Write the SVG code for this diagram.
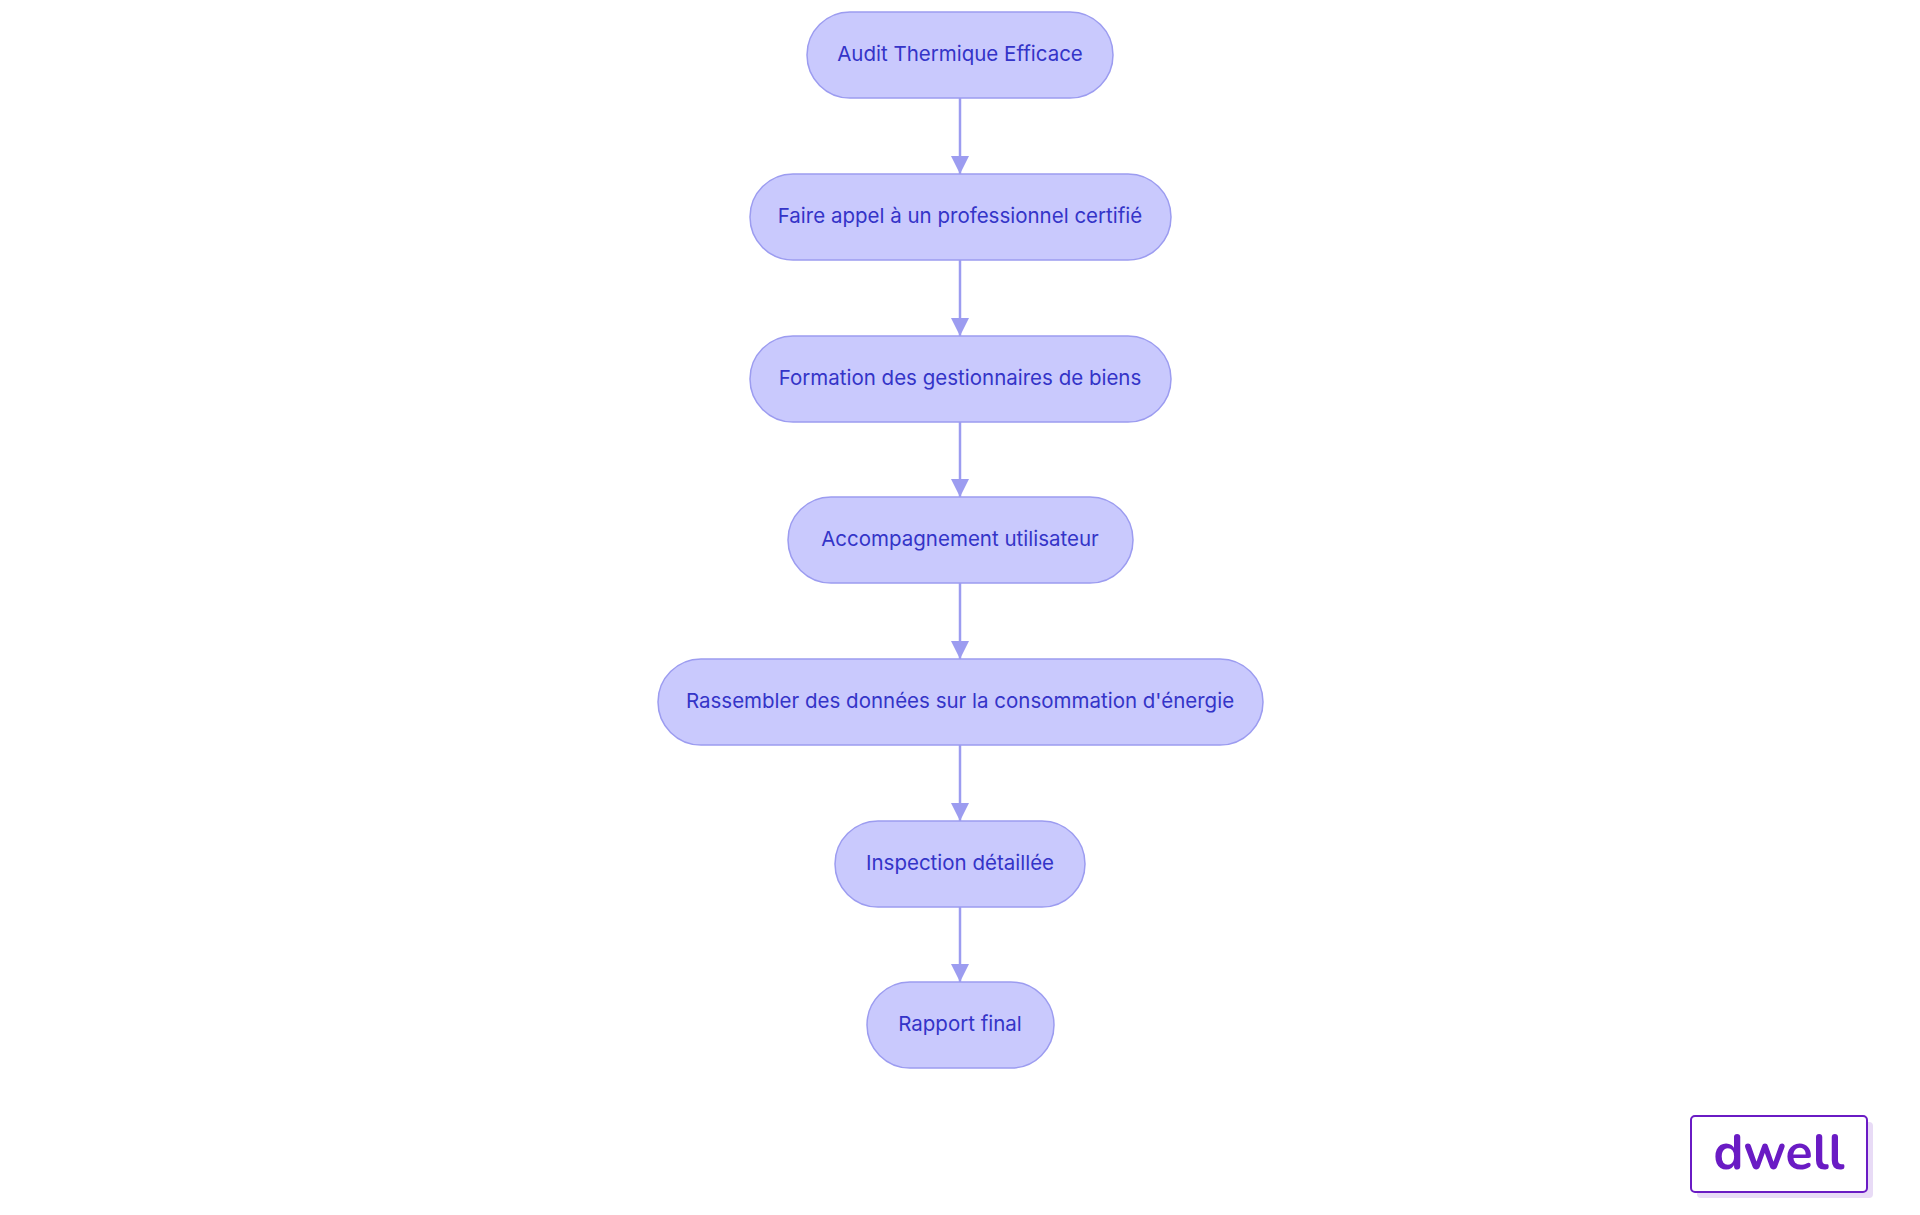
<svg xmlns="http://www.w3.org/2000/svg" width="1920" height="1215" viewBox="0 0 1920 1215">
<style>
.n rect{fill:#c9c9fd;stroke:#9c9cf0;stroke-width:1.5}
.n text{font-family:Inter,"Liberation Sans",sans-serif;font-size:20.5px;fill:#3434c8;text-anchor:middle;dominant-baseline:central}
.c line{stroke:#9c9cf0;stroke-width:2.5}
</style>
<defs><marker id="ah" viewBox="0 0 18 18" refX="18" refY="9" markerWidth="18" markerHeight="18" markerUnits="userSpaceOnUse" orient="auto"><path d="M0,0L18,9L0,18z" fill="#9c9cf0"/></marker></defs>
<rect width="1920" height="1215" fill="#fff"/>
<g class="c">
<line x1="960" y1="98" x2="960" y2="174" marker-end="url(#ah)"/>
<line x1="960" y1="260" x2="960" y2="336" marker-end="url(#ah)"/>
<line x1="960" y1="422" x2="960" y2="497" marker-end="url(#ah)"/>
<line x1="960" y1="583" x2="960" y2="659" marker-end="url(#ah)"/>
<line x1="960" y1="745" x2="960" y2="821" marker-end="url(#ah)"/>
<line x1="960" y1="907" x2="960" y2="982" marker-end="url(#ah)"/>
</g>
<g id="n1" class="n"><rect x="807" y="12" width="306" height="86" rx="43"/><text x="960" y="53">Audit Thermique Efficace</text></g>
<g id="n2" class="n"><rect x="750" y="174" width="421" height="86" rx="43"/><text x="960" y="215">Faire appel à un professionnel certifié</text></g>
<g id="n3" class="n"><rect x="750" y="336" width="421" height="86" rx="43"/><text x="960" y="377">Formation des gestionnaires de biens</text></g>
<g id="n4" class="n"><rect x="788" y="497" width="345" height="86" rx="43"/><text x="960" y="538">Accompagnement utilisateur</text></g>
<g id="n5" class="n"><rect x="658" y="659" width="605" height="86" rx="43"/><text x="960" y="700">Rassembler des données sur la consommation d'énergie</text></g>
<g id="n6" class="n"><rect x="835" y="821" width="250" height="86" rx="43"/><text x="960" y="862">Inspection détaillée</text></g>
<g id="n7" class="n"><rect x="867" y="982" width="187" height="86" rx="43"/><text x="960" y="1023">Rapport final</text></g>
<g id="logo">
<rect x="1697" y="1122" width="176" height="76" rx="4" fill="#e8dbf6"/>
<rect x="1691" y="1116" width="176" height="76" rx="4" fill="#fff" stroke="#6a1bc4" stroke-width="2"/>
<text x="1779" y="1169" text-anchor="middle" font-family="Nunito,'Open Sans','Liberation Sans',sans-serif" font-weight="bold" font-size="50" fill="#6a1bc4">dwell</text>
</g>
</svg>
